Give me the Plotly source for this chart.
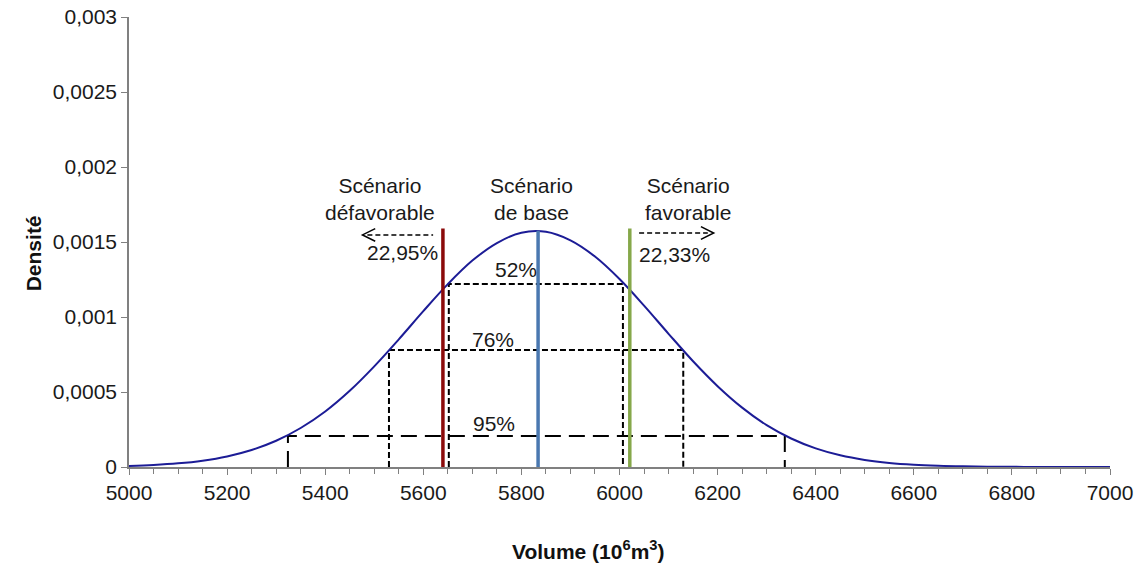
import plotly.graph_objects as go

# ---- data ----
volume = [5000, 5050, 5100, 5150, 5200, 5250, 5300, 5350, 5400, 5450, 5500, 5550,
          5600, 5650, 5700, 5750, 5800, 5850, 5900, 5950, 6000, 6050, 6100, 6150,
          6200, 6250, 6300, 6350, 6400, 6450, 6500, 6550, 6600, 6650, 6700, 6750,
          6800, 6850, 6900, 6950, 7000]
density = [0.0000072, 0.0000136, 0.0000245, 0.0000424, 0.0000707, 0.0001135, 0.000175,
           0.00026, 0.00037, 0.000508, 0.000671, 0.000851, 0.001039, 0.001219, 0.001376,
           0.001493, 0.001562, 0.001568, 0.001511, 0.001403, 0.001253, 0.001076, 0.000888,
           0.000705, 0.000539, 0.000396, 0.000279, 0.00019, 0.000124, 0.0000779, 0.0000471,
           0.0000273, 0.0000153, 0.0000082, 0.0000042, 0.0000021, 0.000001, 0.0000005,
           0.0000002, 0.0000001, 0.00000004]

scenario_names = ["Scénario<br>défavorable", "Scénario<br>de base", "Scénario<br>favorable"]
scenario_x = [5640, 5834, 6021]
scenario_top = [0.00159, 0.001575, 0.00159]
scenario_colors = ["#8B0A0A", "#4A78B0", "#86A84A"]

interval_labels = ["52%", "76%", "95%"]
interval_lo = [5652, 5530, 5324]
interval_hi = [6007, 6130, 6337]
interval_y = [0.00122, 0.00078, 0.000207]
interval_dash = ["6px,3px", "6px,3px", "16px,8px"]

tail_labels = ["22,95%", "22,33%"]

x_ticks = list(range(5000, 7001, 200))
y_tickvals = [0, 0.0005, 0.001, 0.0015, 0.002, 0.0025, 0.003]
y_ticktext = ["0", "0,0005", "0,001", "0,0015", "0,002", "0,0025", "0,003"]

FONT = "Liberation Sans, Arial, sans-serif"
FS = 21

fig = go.Figure()

# interval dashed boxes
for lo, hi, yv, dash in zip(interval_lo, interval_hi, interval_y, interval_dash):
    fig.add_trace(go.Scatter(x=[lo, lo, hi, hi], y=[0, yv, yv, 0], mode="lines",
                             line=dict(color="black", width=2, dash=dash),
                             hoverinfo="skip", showlegend=False, cliponaxis=False))

# density curve
fig.add_trace(go.Scatter(x=volume, y=density, mode="lines", line_shape="spline",
                         line=dict(color="#1C1C96", width=2), showlegend=False,
                         cliponaxis=False))

# scenario lines
for sx, st, sc in zip(scenario_x, scenario_top, scenario_colors):
    fig.add_trace(go.Scatter(x=[sx, sx], y=[0, st], mode="lines",
                             line=dict(color=sc, width=3.5), showlegend=False,
                             cliponaxis=False))

ann = []
# scenario titles
for name, ax_ in zip(scenario_names, [5512, 5820, 6140]):
    ann.append(dict(x=ax_, y=0.001787, text=name, showarrow=False,
                    font=dict(family=FONT, size=FS, color="#1a1a1a")))
# interval labels
for lab, xl, yl in zip(interval_labels, [5789, 5742, 5744], [0.001317, 0.000853, 0.000287]):
    ann.append(dict(x=xl, y=yl, text=lab, showarrow=False,
                    font=dict(family=FONT, size=FS, color="#1a1a1a")))
# tail labels
for lab, xl, yl in zip(tail_labels, [5557, 6113], [0.001433, 0.00142]):
    ann.append(dict(x=xl, y=yl, text=lab, showarrow=False,
                    font=dict(family=FONT, size=FS, color="#1a1a1a")))
# axis titles
ann.append(dict(xref="paper", yref="paper", x=0.468, y=-0.185, yanchor="middle",
                text="<b>Volume (10<sup>6</sup>m<sup>3</sup>)</b>", showarrow=False,
                font=dict(family=FONT, size=FS, color="#111")))
ann.append(dict(xref="paper", yref="paper", x=-0.111, y=0.474, textangle=-90,
                text="<b>Densité</b>", showarrow=False,
                font=dict(family=FONT, size=FS, color="#111")))

# tail arrows (dashed shaft + open head)
shapes = []
ay1, ay2 = 0.001547, 0.00156
hx, hy = 26, 0.000042
shapes.append(dict(type="line", x0=5486, x1=5620, y0=ay1, y1=ay1, xref="x", yref="y",
                   line=dict(color="black", width=1.5, dash="5px,3px")))
shapes.append(dict(type="path", xref="x", yref="y",
                   path=f"M {5476+hx},{ay1+hy} L 5476,{ay1} L {5476+hx},{ay1-hy}",
                   line=dict(color="black", width=1.5)))
shapes.append(dict(type="line", x0=6040, x1=6180, y0=ay2, y1=ay2, xref="x", yref="y",
                   line=dict(color="black", width=1.5, dash="5px,3px")))
shapes.append(dict(type="path", xref="x", yref="y",
                   path=f"M {6192-hx},{ay2+hy} L 6192,{ay2} L {6192-hx},{ay2-hy}",
                   line=dict(color="black", width=1.5)))

# page body has an 8px margin, so the figure is sized to fit inside the window
fig.update_layout(
    width=1137, height=559,
    margin=dict(l=121, r=35, t=9, b=100, autoexpand=False),
    paper_bgcolor="white", plot_bgcolor="white",
    font=dict(family=FONT, size=FS, color="#1a1a1a"),
    annotations=ann, shapes=shapes, showlegend=False,
    xaxis=dict(range=[5000, 7000], tickvals=x_ticks, ticktext=[str(v) for v in x_ticks],
               showline=True, linecolor="#808080", linewidth=1.5, showgrid=False,
               zeroline=False, ticks="outside", ticklen=6, tickcolor="#808080",
               ticklabeloverflow="allow", automargin=False,
               minor=dict(dtick=50, tick0=5000, ticks="outside", ticklen=5,
                          tickcolor="#808080", showgrid=False),
               tickfont=dict(family=FONT, size=FS, color="#1a1a1a")),
    yaxis=dict(range=[0, 0.003], tickvals=y_tickvals, ticktext=y_ticktext,
               showline=True, linecolor="#808080", linewidth=1.5, showgrid=False,
               zeroline=False, ticks="outside", ticklen=6, tickcolor="#808080",
               ticklabeloverflow="allow", automargin=False,
               tickfont=dict(family=FONT, size=FS, color="#1a1a1a")),
)

fig.write_html("out.html")
